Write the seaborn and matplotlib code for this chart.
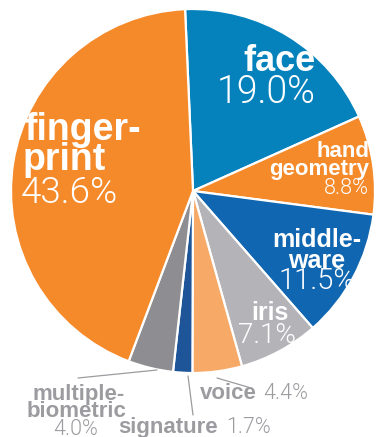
import matplotlib
matplotlib.use("Agg")
import matplotlib.pyplot as plt
import seaborn as sns

sns.set_theme(style="white")
plt.rcParams['font.family'] = ['Liberation Sans', 'DejaVu Sans']

# ---- data ----
categories = ["face", "hand geometry", "middleware", "iris", "voice",
              "signature", "multiple-biometric", "fingerprint"]
shares = [19.0, 8.8, 11.5, 7.1, 4.4, 1.7, 4.0, 43.6]
colors = ["#0581BC", "#F58A2B", "#1066B0", "#B4B4B8", "#F7AA68",
          "#1E5598", "#8E8E92", "#F58A2B"]
pct_labels = ["19.0%", "8.8%", "11.5%", "7.1%", "4.4%", "1.7%", "4.0%", "43.6%"]

W, H = 376, 437
fig = plt.figure(figsize=(W / 100, H / 100), dpi=100)
fig.patch.set_facecolor("white")

cx, cy, r = 193, 191, 182
ax = fig.add_axes([(cx - r) / W, (H - cy - r) / H, 2 * r / W, 2 * r / H])
wedges, _ = ax.pie(shares, colors=colors, startangle=92.5, counterclock=False,
                   wedgeprops=dict(edgecolor="white", linewidth=1.6))
for w in wedges:
    w.set_clip_on(False)
ax.set_xlim(-1, 1)
ax.set_ylim(-1, 1)
ax.set_aspect("equal")
ax.axis("off")

def px(x, y):
    return x / W, 1 - y / H

LIGHT = dict(family=['Roboto', 'DejaVu Sans'], fontweight=300)
BOLD = dict(family=['Liberation Sans', 'DejaVu Sans'], fontweight='bold')
grey = "#9C9CA0"

def t(x, y, s, size, style, color="white", ha="left"):
    fig.text(*px(x, y), s, fontsize=size, color=color, ha=ha, va="baseline", **style)

# face
t(316, 71, "face", 26, BOLD, ha="right")
t(316, 103, pct_labels[0], 27, LIGHT, ha="right")
# hand geometry
t(369, 157, "hand", 16, BOLD, ha="right")
t(369, 175, "geometry", 16, BOLD, ha="right")
t(369, 194, pct_labels[1], 15.5, LIGHT, ha="right")
# middleware
t(317, 247, "middle-", 18, BOLD, ha="center")
t(317, 268, "ware", 18, BOLD, ha="center")
t(317, 289, pct_labels[2], 21, LIGHT, ha="center")
# iris
t(270, 320, "iris", 18, BOLD, ha="center")
t(267, 343, pct_labels[3], 20, LIGHT, ha="center")
# fingerprint
t(24, 140, "finger-", 27, BOLD)
t(23, 170, "print", 27, BOLD)
t(21, 203, pct_labels[7], 26.5, LIGHT)

# outside labels
t(257, 399, "voice", 16, BOLD, color=grey, ha="right")
t(263, 399, pct_labels[4], 15.5, LIGHT, color=grey)
t(218, 433, "signature", 16, BOLD, color=grey, ha="right")
t(226, 433, pct_labels[5], 15.5, LIGHT, color=grey)
t(79, 400, "multiple-", 16, BOLD, color=grey, ha="center")
t(77, 417, "biometric", 16, BOLD, color=grey, ha="center")
t(76, 435, pct_labels[6], 15.5, LIGHT, color=grey, ha="center")

# leader lines
def line(x0, y0, x1, y1):
    fig.add_artist(plt.Line2D([x0 / W, x1 / W], [1 - y0 / H, 1 - y1 / H],
                              color=grey, lw=0.9))

line(217, 378, 251, 388)
line(188, 376, 193, 415)
line(157, 370, 78, 378)

fig.savefig("out.png", dpi=100, facecolor="white")
